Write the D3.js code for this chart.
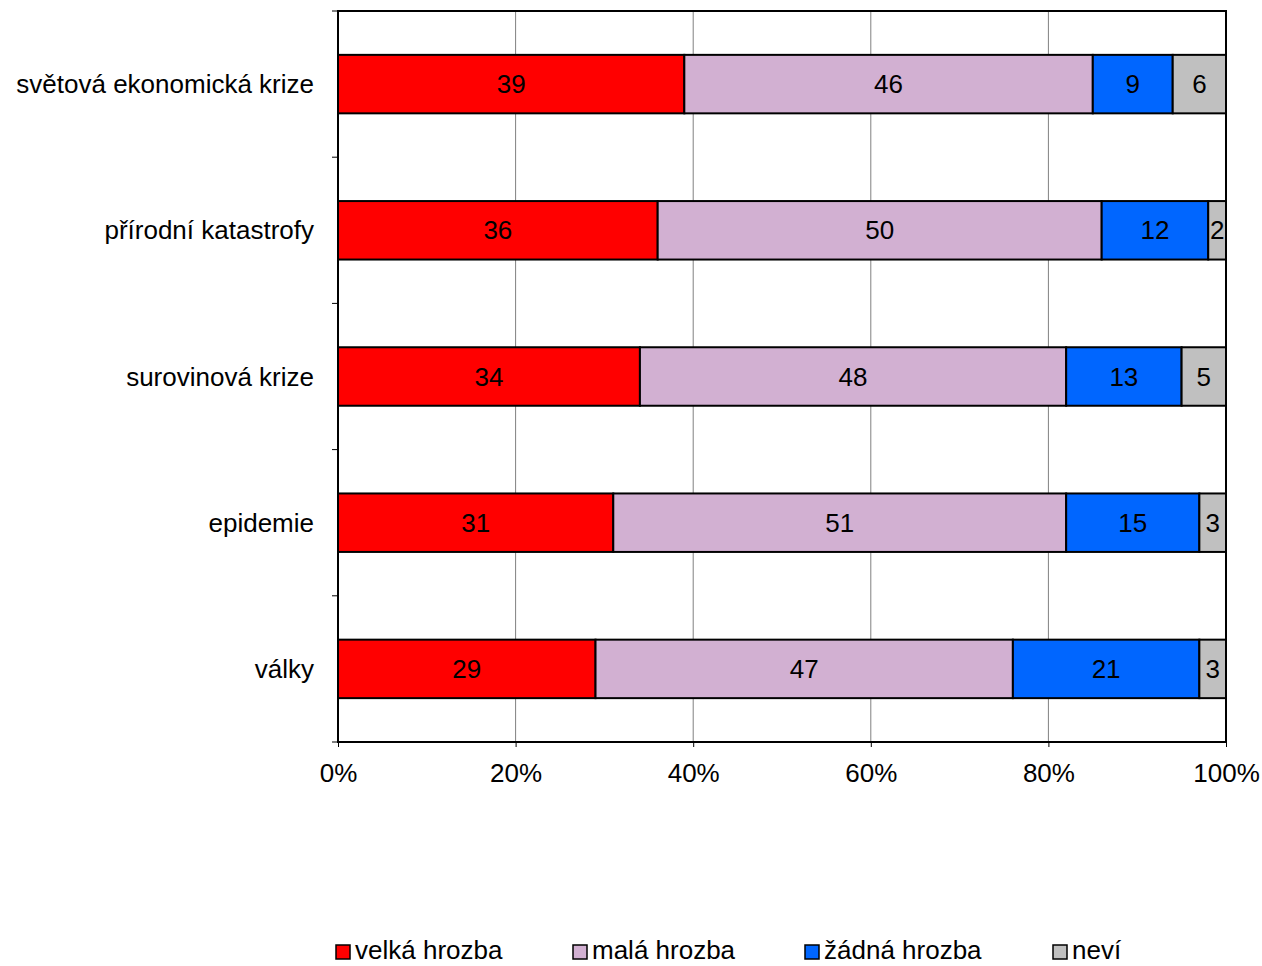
<!DOCTYPE html>
<html><head><meta charset="utf-8">
<script src="https://cdn.jsdelivr.net/npm/d3@7"></script>
<style>body{margin:0;background:#fff}svg{font-family:"Liberation Sans",Arial,sans-serif}</style>
</head><body><svg id="c" width="1262" height="966"></svg>
<script>
const categories=["světová ekonomická krize","přírodní katastrofy","surovinová krize","epidemie","války"];
const seriesNames=["velká hrozba","malá hrozba","žádná hrozba","neví"];
const velka=[39,36,34,31,29];
const mala=[46,50,48,51,47];
const zadna=[9,12,13,15,21];
const nevi=[6,2,5,3,3];
const colors=["#FF0000","#D2B0D2","#0066FF","#C0C0C0"];
const xTicks=[0,20,40,60,80,100];

const svg=d3.select("#c");
const L=338,R=1226,T=11,B=742;
const FS=26;
const x=d3.scaleLinear().domain([0,100]).range([L,R]);
const y=d3.scaleBand().domain(categories).range([T,B]).paddingInner(0.6).paddingOuter(0.3);
const yb=d3.scaleBand().domain(categories).range([T,B]);
const vals=[velka,mala,zadna,nevi];

svg.append("g").selectAll("line").data(xTicks.slice(1,-1)).join("line")
 .attr("x1",d=>x(d)).attr("x2",d=>x(d)).attr("y1",T).attr("y2",B).attr("stroke","#808080").attr("stroke-width",1);

categories.forEach((c,i)=>{
 let acc=0;
 vals.forEach((s,j)=>{
  const v=s[i];
  svg.append("rect").attr("x",x(acc)).attr("y",y(c)).attr("width",x(acc+v)-x(acc)).attr("height",y.bandwidth())
   .attr("fill",colors[j]).attr("stroke","#000").attr("stroke-width",2);
  svg.append("text").attr("x",(x(acc)+x(acc+v))/2).attr("y",y(c)+y.bandwidth()/2+9)
   .attr("text-anchor","middle").attr("font-size",FS).attr("fill","#000").text(v);
  acc+=v;
 });
});

svg.append("rect").attr("x",L).attr("y",T).attr("width",R-L).attr("height",B-T).attr("fill","none").attr("stroke","#000").attr("stroke-width",2);

const xa=svg.append("g").attr("transform",`translate(0,${B})`)
 .call(d3.axisBottom(x).tickValues(xTicks).tickFormat(d=>d+"%").tickSize(5).tickPadding(17));
xa.select(".domain").remove();
xa.selectAll("text").attr("font-size",FS).attr("fill","#000").attr("font-family","Liberation Sans, Arial, sans-serif");

const ticksY=[T].concat(categories.map(c=>yb(c)+yb.bandwidth()));
svg.append("g").selectAll("line").data(ticksY).join("line")
 .attr("x1",L-6).attr("x2",L).attr("y1",d=>d).attr("y2",d=>d).attr("stroke","#000");
svg.append("g").selectAll("text").data(categories).join("text")
 .attr("x",314).attr("y",c=>y(c)+y.bandwidth()/2+9).attr("text-anchor","end").attr("font-size",FS).text(c=>c);

const lx=[336,573,805,1053];
const lg=svg.append("g");
seriesNames.forEach((n,i)=>{
 lg.append("rect").attr("x",lx[i]).attr("y",945).attr("width",14).attr("height",14).attr("fill",colors[i]).attr("stroke","#000").attr("stroke-width",1.5);
 lg.append("text").attr("x",lx[i]+19).attr("y",959).attr("font-size",FS).text(n);
});
</script></body></html>
